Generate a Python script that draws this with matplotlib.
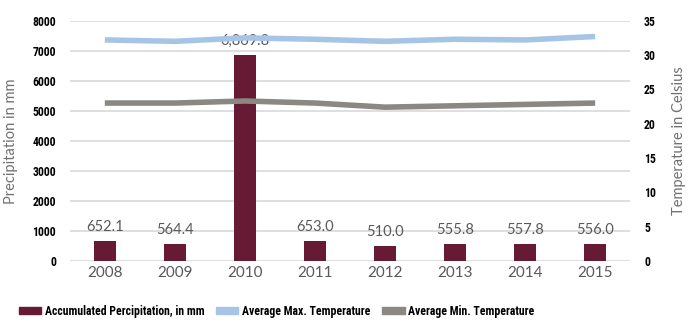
import matplotlib.pyplot as plt
from matplotlib.patches import Patch

years = ['2008', '2009', '2010', '2011', '2012', '2013', '2014', '2015']
precip = [652.1, 564.4, 6869.8, 653.0, 510.0, 555.8, 557.8, 556.0]
max_temp = [32.2, 32.0, 32.5, 32.3, 32.0, 32.3, 32.2, 32.7]
min_temp = [23.0, 23.0, 23.3, 23.0, 22.4, 22.6, 22.8, 23.0]
precip_ticks = list(range(0, 8001, 1000))
temp_ticks = list(range(0, 36, 5))

bar_color = '#661A33'
max_color = '#A6C5E6'
min_color = '#8B8883'
grid_color = '#D9D9D9'

plt.rcParams['font.family'] = ['Lato', 'DejaVu Sans']
bold_family = ['Roboto Condensed', 'Roboto', 'DejaVu Sans']

fig = plt.figure(figsize=(6.91, 3.24), dpi=100)
ax = fig.add_axes([0.101, 0.195, 0.811, 0.741])
ax2 = ax.twinx()

x = list(range(len(years)))
ax.bar(x, precip, width=0.32, color=bar_color, zorder=2)
for xi, v in zip(x, precip):
    ax.annotate(f'{v:,.1f}', (xi, v), xytext=(0, 5), textcoords='offset points',
                ha='center', va='bottom', fontsize=10.5, color='#595959')

ax2.plot(x, max_temp, color=max_color, lw=4, solid_capstyle='butt')
ax2.plot(x, min_temp, color=min_color, lw=4, solid_capstyle='butt')

ax.set_xlim(-0.5, len(years) - 0.5)
ax.set_ylim(0, 8000)
ax.set_yticks(precip_ticks, [str(t) for t in precip_ticks], fontsize=8.5,
              family=bold_family, fontweight='bold')
ax2.set_ylim(0, 35)
ax2.set_yticks(temp_ticks, [str(t) for t in temp_ticks], fontsize=8.5,
               family=bold_family, fontweight='bold')
ax.set_xticks(x)
ax.set_xticklabels(years)
ax.yaxis.grid(True, color=grid_color, lw=1.2, zorder=0)
ax.set_axisbelow(True)

for a in (ax, ax2):
    for s in a.spines.values():
        s.set_visible(False)
    a.tick_params(length=0)
ax.tick_params(axis='x', labelsize=11, labelcolor='#595959', pad=4)
ax.tick_params(axis='y', pad=10)
ax2.tick_params(axis='y', pad=10)

ax.set_ylabel('Precipitation in mm', fontsize=10.5, color='#707070')
ax.yaxis.set_label_coords(-0.093, 0.5)
ax2.set_ylabel('Temperature in Celsius', fontsize=10.5, color='#707070')
ax2.yaxis.set_label_coords(1.075, 0.5)

handles = [Patch(color=bar_color), Patch(color=max_color), Patch(color=min_color)]
labels = ['Accumulated Percipitation, in mm', 'Average Max. Temperature', 'Average Min. Temperature']
fig.legend(handles, labels, loc='center left', bbox_to_anchor=(0.027, 0.04), ncol=3, frameon=False,
           prop={'family': bold_family, 'weight': 'bold', 'size': 8.5},
           handlelength=1.9, handleheight=0.6, handletextpad=0.3, columnspacing=1.0,
           borderaxespad=0, borderpad=0)

fig.savefig('out.png', dpi=100)
